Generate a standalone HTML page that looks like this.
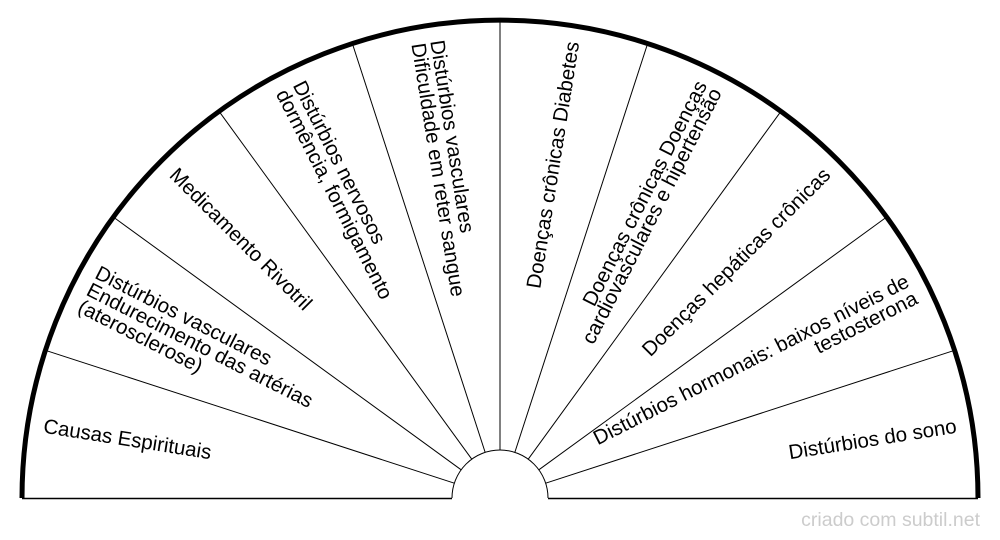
<!DOCTYPE html>
<html><head><meta charset="utf-8"><style>
html,body{margin:0;padding:0;background:#fff;}
svg{display:block;}
text{font-family:"Liberation Sans",sans-serif;font-size:20.5px;fill:#000;}
</style></head><body>
<svg width="1000" height="540" viewBox="0 0 1000 540" xmlns="http://www.w3.org/2000/svg">
<g stroke="#000" stroke-width="1">
<line x1="454.35" y1="483.17" x2="45.37" y2="350.30"/>
<line x1="461.17" y1="469.79" x2="113.30" y2="217.03"/>
<line x1="471.79" y1="459.17" x2="219.03" y2="111.30"/>
<line x1="485.17" y1="452.35" x2="352.30" y2="43.37"/>
<line x1="500" y1="450" x2="500" y2="20"/>
<line x1="514.83" y1="452.35" x2="647.70" y2="43.37"/>
<line x1="528.21" y1="459.17" x2="780.97" y2="111.30"/>
<line x1="538.83" y1="469.79" x2="886.70" y2="217.03"/>
<line x1="545.65" y1="483.17" x2="954.63" y2="350.30"/>
</g>
<path d="M22 498 A478 478 0 0 1 978 498" fill="none" stroke="#000" stroke-width="5"/>
<path d="M452 498 A48 48 0 0 1 548 498" fill="#fff" stroke="#000" stroke-width="1"/>
<line x1="22" y1="498.5" x2="452" y2="498.5" stroke="#000" stroke-width="1.5"/>
<line x1="548" y1="498.5" x2="978" y2="498.5" stroke="#000" stroke-width="1.5"/>

<g transform="translate(500,498) rotate(9)"><text x="-462" y="7">Causas Espirituais</text></g>
<g transform="translate(500,498) rotate(27)">
<text x="-462" y="-12">Distúrbios vasculares</text>
<text x="-462" y="7">Endurecimento das artérias</text>
<text x="-462" y="26">(aterosclerose)</text></g>
<g transform="translate(500,498) rotate(45)"><text x="-462" y="7">Medicamento Rivotril</text></g>
<g transform="translate(500,498) rotate(63)">
<text x="-462" y="-2.5">Distúrbios nervosos</text>
<text x="-462" y="16.5">dormência, formigamento</text></g>
<g transform="translate(500,498) rotate(81)">
<text x="-462" y="-2.5">Distúrbios vasculares</text>
<text x="-462" y="16.5">Dificuldade em reter sangue</text></g>
<g transform="translate(500,498) rotate(-81)"><text x="462" y="7" text-anchor="end">Doenças crônicas Diabetes</text></g>
<g transform="translate(500,498) rotate(-63)">
<text x="462" y="-2.5" text-anchor="end">Doenças crônicas Doenças</text>
<text x="462" y="14" text-anchor="end">cardiovasculares e hipertensão</text></g>
<g transform="translate(500,498) rotate(-45)"><text x="462" y="7" text-anchor="end">Doenças hepáticas crônicas</text></g>
<g transform="translate(500,498) rotate(-27)">
<text x="462" y="-2.5" text-anchor="end">Distúrbios hormonais: baixos níveis de</text>
<text x="462" y="16.5" text-anchor="end">testosterona</text></g>
<g transform="translate(500,498) rotate(-9)"><text x="462" y="7" text-anchor="end">Distúrbios do sono</text></g>

<text x="980" y="526" text-anchor="end" style="font-size:19.5px;fill:#ccc">criado com subtil.net</text>
</svg>
</body></html>
